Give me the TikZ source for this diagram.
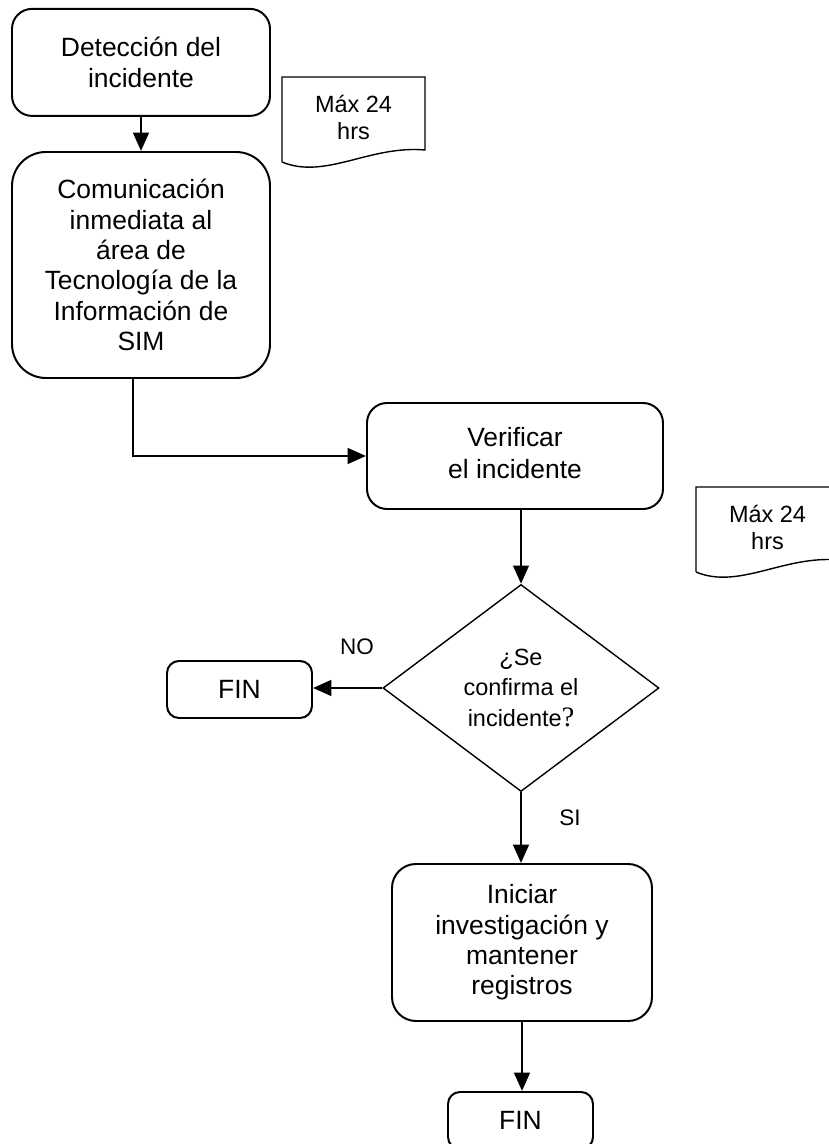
\documentclass[tikz,border=0pt]{standalone}
\usepackage{fontspec}
\setmainfont{Liberation Sans}
\newfontfamily\qfont{Liberation Serif}
\usetikzlibrary{arrows.meta,shapes.geometric}

\tikzset{
  procbox/.style={draw, line width=1.4pt, rounded corners=0.5cm, align=center, inner sep=0pt,
    font=\fontsize{18.8}{21.6}\selectfont},
  finbox/.style={procbox, rounded corners=0.3cm, minimum width=3.625cm, minimum height=1.425cm},
  decision/.style={draw, diamond, aspect=1.33, line width=1pt, align=center, inner sep=0pt,
    minimum width=6.9cm, minimum height=5.175cm, font=\fontsize{16.7}{22}\selectfont},
  notetext/.style={align=center, font=\fontsize{16.7}{19.2}\selectfont},
  tag/.style={font=\fontsize{16}{19}\selectfont},
  flow/.style={line width=2pt, -{Triangle[length=13pt,width=11pt]}}
}

\begin{document}
\begin{tikzpicture}
  \useasboundingbox (0,0) rectangle (20.725,28.6);

  % Steps of the flow
  \node[procbox, minimum width=6.45cm, minimum height=2.675cm] (deteccion) at (3.525,27.04) {Detección del\\incidente};
  \node[procbox, rounded corners=0.85cm, minimum width=6.45cm, minimum height=5.65cm] (comunicacion) at (3.525,21.975)
    {Comunicación\\inmediata al\\área de\\Tecnología de la\\Información de\\SIM};
  \node[procbox, minimum width=7.4cm, minimum height=2.65cm] (verificar) at (12.875,17.2)
    {\raisebox{0.15cm}{\shortstack{Verificar\\[6pt]el incidente}}};
  \node[decision] (confirma) at (13.025,11.4) {¿Se\\confirma el\\incidente{\qfont\fontsize{20}{22}\selectfont ?}};
  \node[finbox] (finno) at (5.9875,11.3625) {FIN};
  \node[procbox, rounded corners=0.6cm, minimum width=6.5cm, minimum height=3.925cm] (iniciar) at (13.05,5.0375)
    {Iniciar\\investigación y\\mantener\\registros};
  \node[finbox] (finsi) at (13.0125,0.5875) {FIN};

  % Time notes
  \draw[line width=1pt] (7.05,24.55) -- (7.05,26.675) -- (10.625,26.675) -- (10.625,24.85)
    .. controls (9.25,24.975) and (8.125,24.1) .. (7.05,24.55);
  \node[notetext] (plazo1) at (8.8375,25.675) {Máx 24\\hrs};
  \draw[line width=1pt] (17.4,14.3) -- (17.4,16.425) -- (20.975,16.425) -- (20.975,14.6)
    .. controls (19.6,14.725) and (18.475,13.85) .. (17.4,14.3);
  \node[notetext] (plazo2) at (19.1875,15.425) {Máx 24\\hrs};

  % Connectors
  \draw[flow] (deteccion) -- (comunicacion);
  \draw[flow] ([xshift=-0.2cm]comunicacion.south) |- (verificar.west);
  \draw[flow] (verificar.south -| confirma.north) -- (confirma.north);
  \draw[flow] (confirma.west) -- (confirma.west -| finno.east);
  \draw[flow] (confirma.south) -- (confirma.south |- iniciar.north);
  \draw[flow] (iniciar.south) -- (iniciar.south |- finsi.north);

  \node[tag] (no) at (8.925,12.425) {NO};
  \node[tag] (si) at (14.25,8.15) {SI};
\end{tikzpicture}
\end{document}
